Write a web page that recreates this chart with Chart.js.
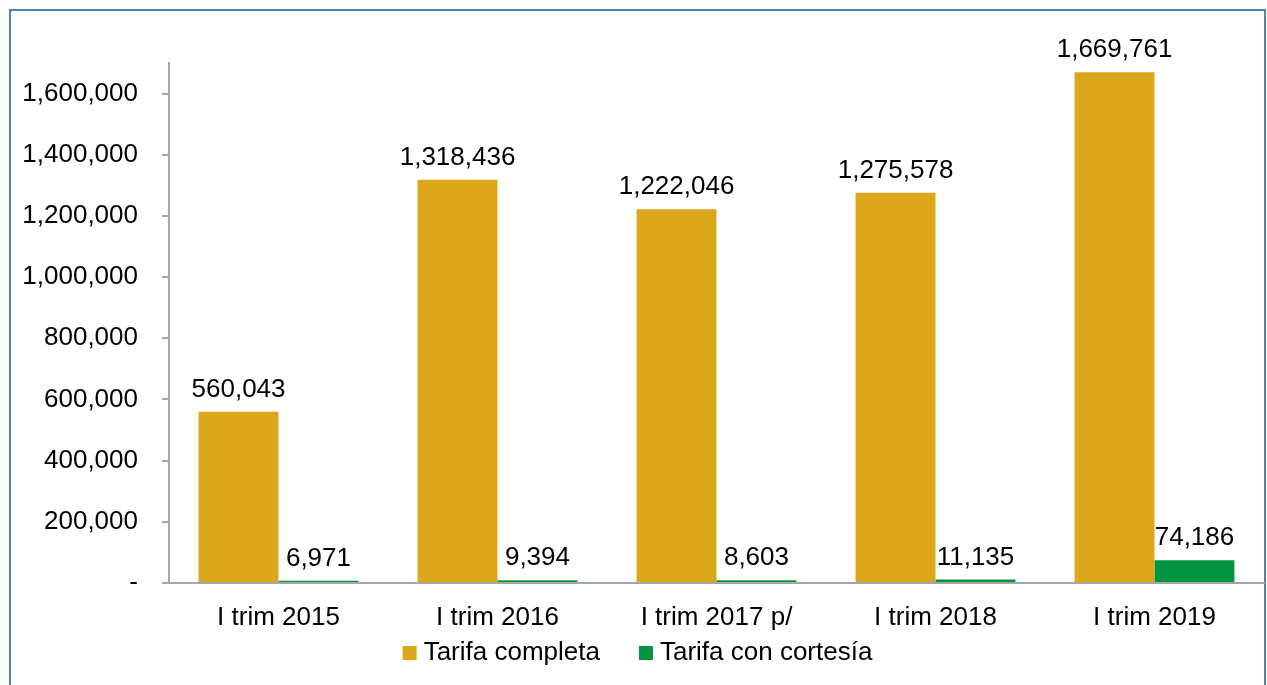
<!DOCTYPE html>
<html>
<head>
<meta charset="utf-8">
<script src="https://cdn.jsdelivr.net/npm/chart.js@4"></script>
<style>
  html, body { margin: 0; padding: 0; background: #fff; }
  #wrap { position: absolute; left: 0; top: 0; width: 1267px; height: 685px; overflow: hidden; }
  #frame { position: absolute; left: 9px; top: 9px; width: 1253px; height: 720px; border: 2px solid #4f81bd; }
  #box { position: absolute; left: 0; top: 0; width: 1267px; height: 685px; }
</style>
</head>
<body>
<div id="wrap">
  <div id="frame"></div>
  <div id="box"><canvas id="chart"></canvas></div>
</div>
<script>
const categories = ['I trim 2015', 'I trim 2016', 'I trim 2017 p/', 'I trim 2018', 'I trim 2019'];
const tarifaCompleta = [560043, 1318436, 1222046, 1275578, 1669761];
const tarifaCortesia = [6971, 9394, 8603, 11135, 74186];
const seriesNames = ['Tarifa completa', 'Tarifa con cortesía'];
const yTicks = [0, 200000, 400000, 600000, 800000, 1000000, 1200000, 1400000, 1600000];
const yMax = 1700000;

const fontFamily = '"Liberation Sans", Arial, sans-serif';
const fontSize = 26;

// value labels above each bar
const barLabels = {
    id: 'barLabels',
    afterDatasetsDraw(chart) {
        const ctx = chart.ctx;
        ctx.save();
        ctx.font = fontSize + 'px ' + fontFamily;
        ctx.fillStyle = '#000';
        ctx.textAlign = 'center';
        ctx.textBaseline = 'alphabetic';
        chart.data.datasets.forEach((ds, i) => {
            chart.getDatasetMeta(i).data.forEach((bar, j) => {
                ctx.fillText(ds.data[j].toLocaleString('en-US'), bar.x, bar.y - 15);
            });
        });
        ctx.restore();
    }
};

// legend row under the axis labels (excel style spacing)
const bottomLegend = {
    id: 'bottomLegend',
    afterDraw(chart) {
        const ctx = chart.ctx;
        const box = 14, gap = 7, itemGap = 39;
        const y = chart.chartArea.bottom + 70;
        ctx.save();
        ctx.font = fontSize + 'px ' + fontFamily;
        ctx.textBaseline = 'middle';
        const items = chart.data.datasets.map(ds => ({
            text: ds.label, color: ds.backgroundColor, w: ctx.measureText(ds.label).width
        }));
        let total = items.reduce((s, it) => s + box + gap + it.w, 0) + itemGap * (items.length - 1);
        let x = chart.width / 2 + 4 - total / 2;
        items.forEach(it => {
            ctx.fillStyle = it.color;
            ctx.fillRect(x, y - box / 2, box, box);
            ctx.fillStyle = '#000';
            ctx.fillText(it.text, x + box + gap, y);
            x += box + gap + it.w + itemGap;
        });
        ctx.restore();
    }
};

new Chart(document.getElementById('chart'), {
    type: 'bar',
    data: {
        labels: categories,
        datasets: [{
            label: seriesNames[0],
            data: tarifaCompleta,
            backgroundColor: '#dba71b',
            categoryPercentage: 0.73,
            barPercentage: 1
        }, {
            label: seriesNames[1],
            data: tarifaCortesia,
            backgroundColor: '#02953f',
            categoryPercentage: 0.73,
            barPercentage: 1
        }]
    },
    options: {
        responsive: true,
        maintainAspectRatio: false,
        animation: false,
        layout: { padding: { left: 0, right: 3, top: 63, bottom: 50 } },
        plugins: {
            legend: { display: false },
            tooltip: { enabled: false }
        },
        scales: {
            x: {
                grid: { display: false },
                border: { display: true, color: '#a6a6a6', width: 2 },
                ticks: { font: { size: fontSize, family: fontFamily }, color: '#000', padding: 11 },
                afterFit(scale) { scale.height = 52; }
            },
            y: {
                min: 0,
                max: yMax,
                grid: { display: true, drawOnChartArea: false, drawTicks: true, tickLength: 7, color: '#a6a6a6', lineWidth: 2 },
                border: { display: true, color: '#a6a6a6', width: 2 },
                ticks: {
                    font: { size: fontSize, family: fontFamily },
                    color: '#000',
                    padding: 24,
                    callback: v => v === 0 ? '-' : v.toLocaleString('en-US')
                },
                afterBuildTicks(scale) { scale.ticks = yTicks.map(v => ({ value: v })); },
                afterFit(scale) { scale.width = 169; }
            }
        }
    },
    plugins: [barLabels, bottomLegend]
});
</script>
</body>
</html>
